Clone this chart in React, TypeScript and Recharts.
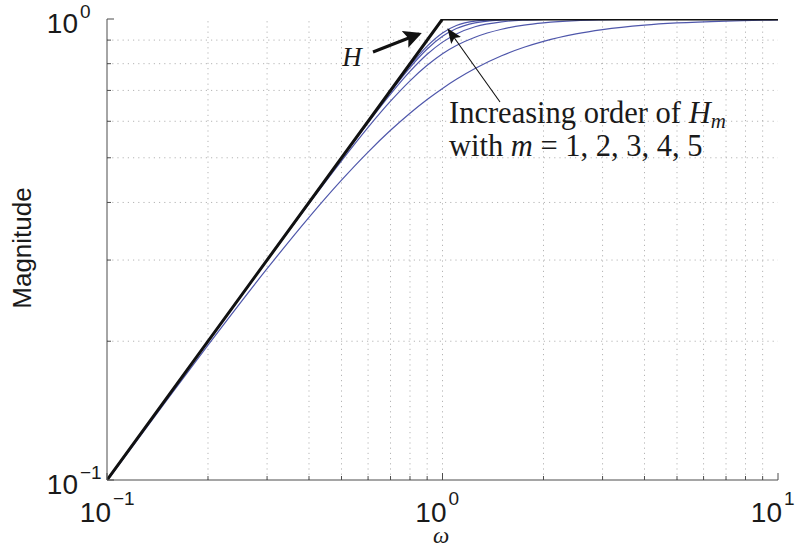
import React from 'react';
import { LineChart, Line, XAxis, YAxis, ReferenceLine } from 'recharts';

// frequency samples (rad/s)
const omega = [0.1, 0.15, 0.2, 0.3, 0.4, 0.5, 0.6, 0.7, 0.8, 0.9, 1, 1.1, 1.25, 1.5, 1.75, 2, 2.5, 3, 4, 5, 7, 10];

// magnitude of H_m, m = 1..5 (estimated from the plot)
const hm1 = [0.0995, 0.1483, 0.1961, 0.2873, 0.3714, 0.4472, 0.5145, 0.5735, 0.6247, 0.669, 0.7071, 0.7399, 0.7809, 0.8321, 0.8682, 0.8944, 0.9285, 0.9487, 0.9701, 0.9806, 0.9899, 0.995];
const hm2 = [0.1, 0.15, 0.1999, 0.2994, 0.3975, 0.4925, 0.582, 0.6633, 0.7342, 0.7934, 0.8409, 0.876, 0.913, 0.95, 0.97, 0.981, 0.992, 0.996, 0.999, 0.9996, 0.9999, 1];
const hm3 = [0.1, 0.15, 0.2, 0.3, 0.3997, 0.4987, 0.5955, 0.6871, 0.7695, 0.8383, 0.8909, 0.9281, 0.9619, 0.986, 0.9943, 0.9974, 0.9994, 0.9998, 1, 1, 1, 1];
const hm4 = [0.1, 0.15, 0.2, 0.3, 0.4, 0.4998, 0.5988, 0.6951, 0.7846, 0.8606, 0.917, 0.9533, 0.9808, 0.9952, 0.9986, 0.9995, 1, 1, 1, 1, 1, 1];
const hm5 = [0.1, 0.15, 0.2, 0.3, 0.4, 0.5, 0.5996, 0.6981, 0.7919, 0.8735, 0.933, 0.9679, 0.9898, 0.9983, 0.9998, 1, 1, 1, 1, 1, 1, 1];

// ideal response H
const hOmega = [0.1, 1, 10];
const hMag = [0.1, 1, 1];

const xTicks = [0.1, 0.2, 0.3, 0.4, 0.5, 0.6, 0.7, 0.8, 0.9, 1, 2, 3, 4, 5, 6, 7, 8, 9, 10];
const yTicks = [0.1, 0.2, 0.3, 0.4, 0.5, 0.6, 0.7, 0.8, 0.9, 1];
const xDecades: Record<number, string> = { 0.1: '\u22121', 1: '0', 10: '1' };
const yDecades: Record<number, string> = { 0.1: '\u22121', 1: '0' };

const series = [hm1, hm2, hm3, hm4, hm5].map((vals) => omega.map((w, i) => ({ w, v: vals[i] })));
const hData = hOmega.map((w, i) => ({ w, v: hMag[i] }));

const sans = '"Liberation Sans", Arial, Helvetica, sans-serif';
const serif = '"Liberation Serif", "Times New Roman", serif';
const axisColor = '#4d4d4d';
const blue = '#4f57ab';

const BottomTick = (props: any) => {
  const { x, y, payload } = props;
  const exp = xDecades[payload.value];
  return (
    <g>
      <line x1={x} y1={y} x2={x} y2={y - (exp ? 7 : 4)} stroke={axisColor} strokeWidth={1} />
      {exp && (
        <text fontFamily={sans} fill="#1a1a1a">
          <tspan x={x + 4} y={y + 42} fontSize={28} textAnchor="end">10</tspan>
          <tspan x={x + 6} y={y + 25} fontSize={19} textAnchor="start">{exp}</tspan>
        </text>
      )}
    </g>
  );
};

const TopTick = (props: any) => {
  const { x, y, payload } = props;
  const major = xDecades[payload.value];
  return <line x1={x} y1={y} x2={x} y2={y + (major ? 7 : 4)} stroke={axisColor} strokeWidth={1} />;
};

const LeftTick = (props: any) => {
  const { x, y, payload } = props;
  const exp = yDecades[payload.value];
  return (
    <g>
      <line x1={x} y1={y} x2={x + (exp ? 7 : 4)} y2={y} stroke={axisColor} strokeWidth={1} />
      {exp && (
        <text fontFamily={sans} fill="#1a1a1a">
          <tspan x={x - 29} y={y + 14} fontSize={28} textAnchor="end">10</tspan>
          <tspan x={x - 27} y={y - 1} fontSize={19} textAnchor="start">{exp}</tspan>
        </text>
      )}
    </g>
  );
};

const RightTick = (props: any) => {
  const { x, y, payload } = props;
  const major = yDecades[payload.value];
  return <line x1={x} y1={y} x2={x - (major ? 7 : 4)} y2={y} stroke={axisColor} strokeWidth={1} />;
};

export default function App() {
  return (
    <div style={{ position: 'absolute', left: 0, top: 0, width: 799, height: 548, background: '#fff' }}>
      <LineChart width={799} height={548} data={series[0]} margin={{ top: 19, right: 21, bottom: 0, left: 0 }}>
        <XAxis
          dataKey="w"
          type="number"
          scale="log"
          domain={[0.1, 10]}
          allowDataOverflow
          ticks={xTicks}
          interval={0}
          height={68}
          tickSize={0}
          tickMargin={0}
          tickLine={false}
          axisLine={{ stroke: axisColor }}
          tick={<BottomTick />}
        />
        <XAxis
          xAxisId="top"
          orientation="top"
          dataKey="w"
          type="number"
          scale="log"
          domain={[0.1, 10]}
          allowDataOverflow
          ticks={xTicks}
          interval={0}
          height={0}
          tickSize={0}
          tickMargin={0}
          tickLine={false}
          axisLine={{ stroke: axisColor }}
          tick={<TopTick />}
        />
        <YAxis
          type="number"
          scale="log"
          domain={[0.1, 1]}
          allowDataOverflow
          ticks={yTicks}
          interval={0}
          width={107}
          tickSize={0}
          tickMargin={0}
          tickLine={false}
          axisLine={{ stroke: axisColor }}
          tick={<LeftTick />}
        />
        <YAxis
          yAxisId="right"
          orientation="right"
          type="number"
          scale="log"
          domain={[0.1, 1]}
          allowDataOverflow
          ticks={yTicks}
          interval={0}
          width={0}
          tickSize={0}
          tickMargin={0}
          tickLine={false}
          axisLine={{ stroke: axisColor }}
          tick={<RightTick />}
        />
        {xTicks.slice(1, -1).map((t) => (
          <ReferenceLine key={'gx' + t} x={t} stroke="#b5b5b5" strokeDasharray="1.2 4" strokeWidth={1} />
        ))}
        {yTicks.slice(1, -1).map((t) => (
          <ReferenceLine key={'gy' + t} y={t} stroke="#b5b5b5" strokeDasharray="1.2 4" strokeWidth={1} />
        ))}
        {series.map((d, i) => (
          <Line
            key={'hm' + i}
            data={d}
            dataKey="v"
            type="monotone"
            stroke={blue}
            strokeWidth={1.2}
            dot={false}
            isAnimationActive={false}
          />
        ))}
        <Line data={hData} dataKey="v" type="linear" stroke="#111" strokeWidth={3} dot={false} isAnimationActive={false} />
      </LineChart>
      <svg width={799} height={548} style={{ position: 'absolute', left: 0, top: 0, pointerEvents: 'none' }}>
        <defs>
          <marker id="headBig" markerWidth="6" markerHeight="6" refX="5" refY="3" orient="auto" markerUnits="strokeWidth">
            <path d="M0,0 L6,3 L0,6 L1.2,3 Z" fill="#111" />
          </marker>
          <marker id="headSmall" markerWidth="15" markerHeight="12" refX="14" refY="6" orient="auto" markerUnits="userSpaceOnUse">
            <path d="M0,0 L15,6 L0,12 L3,6 Z" fill="#111" />
          </marker>
        </defs>
        <text x={22} y={248} transform="rotate(-90 22 248)" textAnchor="middle" dominantBaseline="central" fontFamily={sans} fontSize={26} fill="#1a1a1a">
          Magnitude
        </text>
        <text x={441} y={543} textAnchor="middle" fontFamily={serif} fontStyle="italic" fontSize={23} fill="#1a1a1a">
          ω
        </text>
        <text x={352} y={66} textAnchor="middle" fontFamily={serif} fontStyle="italic" fontSize={27} fill="#1a1a1a">
          H
        </text>
        <line x1={373} y1={52} x2={419} y2={34} stroke="#111" strokeWidth={3} markerEnd="url(#headBig)" />
        <line x1={500} y1={102} x2={448} y2={29} stroke="#111" strokeWidth={1.1} markerEnd="url(#headSmall)" />
        <text x={449} y={123} fontFamily={serif} fontSize={30.5} fill="#1a1a1a">
          Increasing order of <tspan fontStyle="italic">H</tspan>
          <tspan fontStyle="italic" fontSize={21} dy={5}>m</tspan>
        </text>
        <text x={449} y={156} fontFamily={serif} fontSize={30.5} fill="#1a1a1a">
          with <tspan fontStyle="italic">m</tspan> = 1, 2, 3, 4, 5
        </text>
      </svg>
    </div>
  );
}
